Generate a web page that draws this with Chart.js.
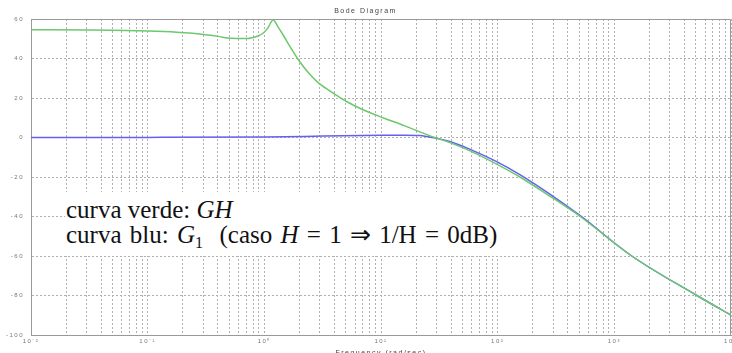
<!DOCTYPE html>
<html>
<head>
<meta charset="utf-8">
<script src="https://cdn.jsdelivr.net/npm/chart.js@4.4.1/dist/chart.umd.min.js"></script>
<style>
  html, body { margin: 0; padding: 0; background: #fff; }
  #wrap { position: relative; width: 732px; height: 353px; overflow: hidden; }
  #note {
    position: absolute; left: 65px; top: 192px; width: 445px; height: 64px;
    background: #fff; box-sizing: border-box; padding: 5px 0 0 1px;
    font-family: "Liberation Serif", "Times New Roman", serif;
    font-size: 25px; line-height: 25px; color: #111; white-space: nowrap;
  }
  #note .l2 { word-spacing: 2px; }
  #note sub { font-size: 16px; vertical-align: -5px; line-height: 0; }
</style>
</head>
<body>
<div id="wrap">
  <canvas id="bode" width="732" height="353"></canvas>
  <div id="note">
    <div>curva verde: <i>GH</i></div>
    <div class="l2">curva blu: <i>G</i><sub>1</sub>&nbsp; (caso <i>H</i> = 1 &rArr; 1/H = 0dB)</div>
  </div>
</div>
<script>
// frequencies in rad/sec, magnitudes in dB
const freqGH = [0.01, 0.0316, 0.1, 0.178, 0.28, 0.4, 0.51, 0.71, 0.89, 0.98, 1.07, 1.19, 1.31, 1.45, 1.66, 1.95, 2.45, 3.0, 3.9, 5.1, 7.1, 10.5, 15.8, 28.8, 39, 58, 98, 155, 282, 510, 1410, 5100, 10000];
const magGH  = [54.6, 54.4, 53.9, 53.3, 52.4, 51.2, 50.2, 50.1, 51.5, 52.9, 55.4, 59.5, 56, 51.9, 46, 39.5, 32, 27, 22.5, 18.1, 13.9, 9.9, 6, 0, -2.6, -6.8, -13.5, -20, -29.8, -40, -60, -80, -90];

const freqG1 = [0.01, 0.1, 1, 3.2, 10, 16, 21.6, 29, 39, 58, 98, 155, 282, 510, 1410, 5100, 10000];
const magG1  = [0, 0.05, 0.3, 0.7, 1.1, 1.2, 1.0, -0.3, -2.0, -6.0, -12.2, -18.8, -28.8, -39.6, -60, -80, -90];

const decadeLabels = ['10⁻²', '10⁻¹', '10⁰', '10¹', '10²', '10³', '10⁴'];
const minExp = -2, maxExp = 4;

const gridColor = '#b0b0b0';
const tickColor = '#777';

function toPoints(f, m) {
  return f.map((v, i) => ({ x: v, y: m[i] }));
}

// spaced-out small lettering like the original plot
const spacing = {
  id: 'spacing',
  beforeDraw(chart) { chart.ctx.letterSpacing = '1.5px'; },
  afterDraw(chart) { chart.ctx.letterSpacing = '0px'; }
};

// top and right edges of the axes box
const frame = {
  id: 'frame',
  beforeDatasetsDraw(chart) {
    const { ctx, chartArea: a } = chart;
    ctx.save();
    ctx.strokeStyle = '#999';
    ctx.lineWidth = 1;
    ctx.beginPath();
    ctx.moveTo(a.left, a.top + 0.5);
    ctx.lineTo(a.right - 0.5, a.top + 0.5);
    ctx.lineTo(a.right - 0.5, a.bottom);
    ctx.stroke();
    ctx.restore();
  }
};

new Chart(document.getElementById('bode'), {
  type: 'line',
  data: {
    datasets: [{
      label: 'GH',
      data: toPoints(freqGH, magGH),
      borderColor: '#6cc86c',
      borderWidth: 1.5,
      pointRadius: 0,
      cubicInterpolationMode: 'monotone'
    }, {
      label: 'G1',
      data: toPoints(freqG1, magG1),
      borderColor: '#6262f2',
      borderWidth: 1.5,
      pointRadius: 0,
      cubicInterpolationMode: 'monotone'
    }]
  },
  options: {
    responsive: false,
    animation: false,
    layout: { padding: { left: 0, right: 1, top: 0, bottom: -4 } },
    plugins: {
      legend: { display: false },
      tooltip: { enabled: false },
      title: {
        display: true,
        text: 'Bode Diagram',
        color: '#444',
        font: { family: 'Liberation Sans', size: 7, weight: 'normal' },
        padding: { top: 7, bottom: 3.6 }
      }
    },
    scales: {
      x: {
        type: 'logarithmic',
        min: Math.pow(10, minExp),
        max: Math.pow(10, maxExp),
        afterBuildTicks(axis) {
          const ticks = [];
          for (let e = minExp; e < maxExp; e++) {
            for (let k = 1; k <= 9; k++) ticks.push({ value: k * Math.pow(10, e) });
          }
          ticks.push({ value: Math.pow(10, maxExp) });
          axis.ticks = ticks;
        },
        afterFit(axis) {
          axis.height = 22;
          axis.paddingLeft = 0;
          axis.paddingRight = 0;
        },
        grid: { color: gridColor, lineWidth: 1, drawTicks: false },
        border: { color: '#999', dash: [2, 2] },
        ticks: {
          autoSkip: false,
          maxRotation: 0,
          padding: 3,
          color: tickColor,
          font: { family: 'Liberation Sans', size: 6 },
          callback(value) {
            const e = Math.log10(value);
            if (Math.abs(e - Math.round(e)) < 1e-9) return decadeLabels[Math.round(e) - minExp];
            return '';
          }
        },
        title: {
          display: true,
          text: 'Frequency (rad/sec)',
          color: '#444',
          font: { family: 'Liberation Sans', size: 7 },
          padding: { top: 0, bottom: 0 }
        }
      },
      y: {
        min: -100,
        max: 60,
        ticks: {
          stepSize: 20,
          padding: 7,
          color: tickColor,
          font: { family: 'Liberation Sans', size: 6 }
        },
        afterFit(axis) {
          axis.width = 31;
          axis.paddingTop = 0;
          axis.paddingBottom = 0;
        },
        grid: { color: gridColor, lineWidth: 1, drawTicks: false },
        border: { color: '#999', dash: [2, 2] }
      }
    }
  },
  plugins: [spacing, frame]
});
</script>
</body>
</html>
